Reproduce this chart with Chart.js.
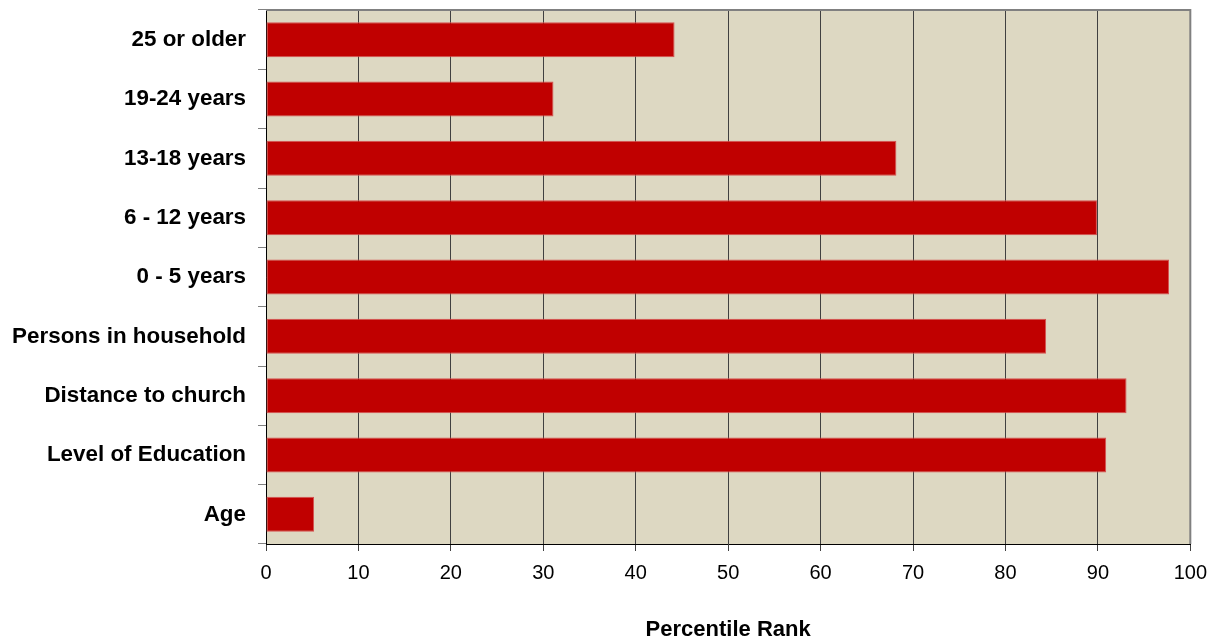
<!DOCTYPE html>
<html>
<head>
<meta charset="utf-8">
<script src="https://cdn.jsdelivr.net/npm/chart.js@4.4.0/dist/chart.umd.min.js"></script>
<style>
  html, body { margin: 0; padding: 0; background: #fff; }
  #wrap { width: 1217px; height: 644px; }
</style>
</head>
<body>
<div id="wrap"><canvas id="chart"></canvas></div>
<script>
const categories = ['25 or older', '19-24 years', '13-18 years', '6 - 12 years', '0 - 5 years',
    'Persons in household', 'Distance to church', 'Level of Education', 'Age'];
const percentileRank = [44.2, 31.1, 68.2, 89.9, 97.7, 84.4, 93.1, 90.9, 5.2];
const xTicks = [0, 10, 20, 30, 40, 50, 60, 70, 80, 90, 100];

// plot background + top/right frame
const plotFrame = {
    id: 'plotFrame',
    beforeDraw(chart) {
        const { ctx, chartArea: a } = chart;
        ctx.save();
        ctx.fillStyle = '#DDD8C2';
        ctx.fillRect(a.left, a.top, a.right - a.left, a.bottom - a.top);
        ctx.restore();
    },
    afterDraw(chart) {
        const { ctx, chartArea: a } = chart;
        ctx.save();
        ctx.strokeStyle = '#808080';
        ctx.lineWidth = 2;
        ctx.beginPath();
        ctx.moveTo(a.left, a.top);
        ctx.lineTo(a.right, a.top);
        ctx.lineTo(a.right, a.bottom);
        ctx.stroke();
        ctx.restore();
    }
};

new Chart(document.getElementById('chart'), {
    type: 'bar',
    data: {
        labels: categories,
        datasets: [{
            data: percentileRank,
            backgroundColor: '#C00000',
            borderColor: '#D65050',
            borderWidth: 1,
            borderSkipped: false,
            categoryPercentage: 1,
            barPercentage: 0.59
        }]
    },
    options: {
        indexAxis: 'y',
        responsive: true,
        maintainAspectRatio: false,
        animation: false,
        layout: { padding: { left: 0, right: 26, top: 10, bottom: 0 } },
        plugins: { legend: { display: false }, tooltip: { enabled: false } },
        scales: {
            x: {
                min: 0, max: 100,
                afterBuildTicks: s => { s.ticks = xTicks.map(v => ({ value: v })); },
                afterFit: s => { s.height = 100; },
                grid: { color: '#404040', lineWidth: 1, tickLength: 7 },
                border: { color: '#000', width: 1 },
                ticks: { color: '#000', font: { family: 'Liberation Sans', size: 20 }, padding: 10 },
                title: {
                    display: true, text: 'Percentile Rank', color: '#000',
                    font: { family: 'Liberation Sans', size: 22, weight: 'bold' },
                    padding: { top: 30, bottom: 1 }
                }
            },
            y: {
                afterFit: s => { s.width = 266; s.paddingTop = 0; s.paddingBottom = 0; },
                grid: { drawOnChartArea: false, color: '#808080', tickLength: 8, offset: true },
                border: { color: '#000', width: 1 },
                ticks: { color: '#000', font: { family: 'Liberation Sans', size: 22.4, weight: 'bold' }, padding: 12 }
            }
        }
    },
    plugins: [plotFrame]
});
</script>
</body>
</html>
